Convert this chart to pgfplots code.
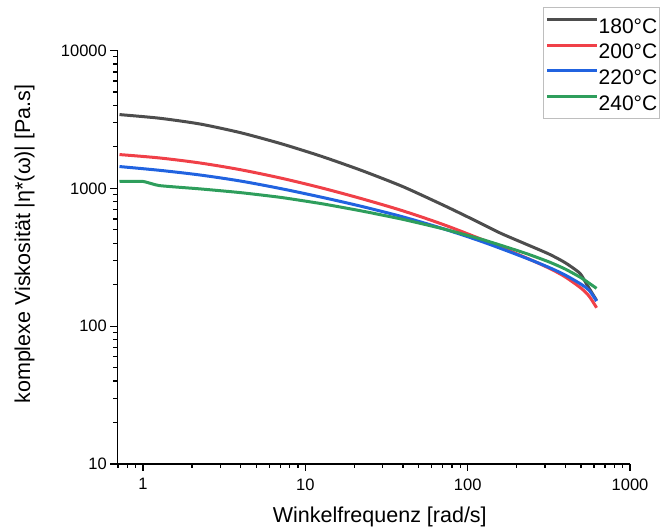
\documentclass[border=0pt]{standalone}
\usepackage{fontspec}
\setmainfont{Liberation Sans}
\usepackage{pgfplots}
\pgfplotsset{compat=1.18}
\definecolor{c180}{RGB}{77,77,77}
\definecolor{c200}{RGB}{240,64,72}
\definecolor{c220}{RGB}{33,99,224}
\definecolor{c240}{RGB}{46,158,92}
\definecolor{lgd}{RGB}{190,190,190}
\begin{document}
\begin{tikzpicture}
\useasboundingbox (-117.3pt,-64pt) rectangle (543.7pt,464pt);
\begin{axis}[
  at={(0pt,0pt)}, anchor=south west,
  scale only axis, width=512.7pt, height=413.5pt,
  xmode=log, ymode=log,
  xmin=0.694, xmax=1000, ymin=10, ymax=10000,
  axis x line*=bottom, axis y line*=left,
  axis line style={line width=1.4pt, black},
  tick align=outside,
  major tick length=7pt, minor tick length=4pt,
  every tick/.style={line width=1.3pt, black},
  xtick={1,10,100,1000}, xticklabels={1,10,100,1000},
  minor xtick={0.7,0.8,0.9,2,3,4,5,6,7,8,9,20,30,40,50,60,70,80,90,200,300,400,500,600,700,800,900},
  ytick={10,100,1000,10000}, yticklabels={10,100,1000,10000},
  minor ytick={20,30,40,50,60,70,80,90,200,300,400,500,600,700,800,900,2000,3000,4000,5000,6000,7000,8000,9000},
  /pgf/number format/assume math mode=true,
  ticklabel style={font=\fontsize{16.5}{18}\selectfont},
  xticklabel style={yshift=-4pt},
  xlabel={Winkelfrequenz [rad/s]},
  ylabel={komplexe Viskosität |η*(ω)| [Pa.s]},
  label style={font=\fontsize{21.5}{24}\selectfont},
  xlabel style={at={(axis description cs:0.512,-0.128)}, anchor=center},
  ylabel style={at={(axis description cs:-0.181,0.532)}, anchor=center},
  legend cell align=left,
  legend image code/.code={\draw[#1, line width=3pt] (0pt,5pt) -- (50pt,5pt);},
  legend style={at={(axis description cs:0.8309,1.1045)}, anchor=north west,
    draw=lgd, line width=0.8pt, fill=white,
    font=\fontsize{21}{21}\selectfont,
    inner xsep=2pt, inner ysep=8pt, row sep=8pt,
    nodes={inner sep=0pt, text height=17.6pt, text depth=0pt},
    /tikz/every even column/.append style={column sep=5pt}},
]
\addplot[c180, line width=3pt, smooth, tension=0.4] coordinates {
(0.716,3428) (1.259,3228) (2.239,2931) (3.981,2535) (7.079,2109) (12.59,1706)
(22.39,1343) (39.81,1030) (70.79,755) (103,610) (158,475) (223.9,398)
(316.2,334) (398.1,289) (491,242) (540,202) (622,154)};
\addlegendentry{180°C}
\addplot[c200, line width=3pt, smooth, tension=0.5] coordinates {
(0.716,1758) (1.259,1662) (2.239,1528) (3.981,1365) (7.079,1186) (12.59,1007)
(22.39,839) (39.81,687) (70.79,546) (125.9,420) (223.9,317) (316.2,264)
(398.1,228) (501.2,188) (562.3,164) (622.3,136)};
\addlegendentry{200°C}
\addplot[c220, line width=3pt, smooth, tension=0.5] coordinates {
(0.716,1439) (1.259,1352) (2.239,1250) (3.981,1130) (7.079,995) (12.59,862)
(22.39,738) (39.81,621) (70.79,509) (125.9,406) (223.9,315) (316.2,267)
(398.1,235) (501.2,201) (562.3,181) (622.3,152)};
\addlegendentry{220°C}
\addplot[c240, line width=3pt, smooth, tension=0.3] coordinates {
(0.716,1124) (1.0,1122) (1.259,1047) (2.239,991) (3.981,931) (7.079,859)
(12.59,774) (22.39,684) (39.81,596) (70.79,508) (125.9,422) (223.9,340)
(316.2,293) (398.1,260) (501.2,224) (622.3,188)};
\addlegendentry{240°C}
\end{axis}
\end{tikzpicture}
\end{document}
